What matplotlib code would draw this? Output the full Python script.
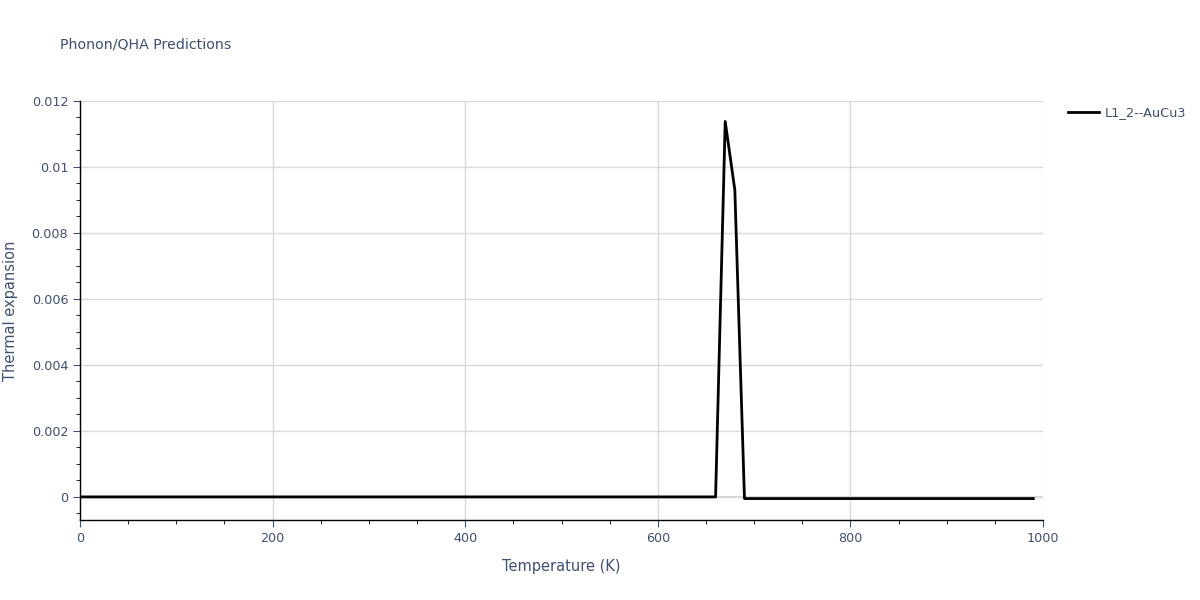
import numpy as np
import matplotlib
matplotlib.use("Agg")
import matplotlib.pyplot as plt
from matplotlib.ticker import MultipleLocator

# temperature grid (K) and thermal expansion
temperature = np.arange(0, 1000, 10)
flat_low = [0.0] * 67          # 0 .. 660 K
peak = [0.01138, 0.0093]       # 670, 680 K
flat_high = [-0.00005] * 31    # 690 .. 990 K
expansion = np.array(flat_low + peak + flat_high)

series_name = "L1_2--AuCu3"
title = "Phonon/QHA Predictions"
text_color = "#3d5070"
grid_color = "#d9d9d9"

plt.rcParams['font.family'] = ['DejaVu Sans']

fig = plt.figure(figsize=(12, 6), dpi=100)
ax = fig.add_axes([80 / 1200, 80 / 600, (1043 - 80) / 1200, (520 - 101) / 600])

ax.axhline(0, color=grid_color, lw=1.5, zorder=1)
ax.plot(temperature, expansion, color="black", lw=2, label=series_name, zorder=3)

ax.set_xlim(0, 1000)
ax.set_ylim(-0.0007, 0.012)

ax.xaxis.set_major_locator(MultipleLocator(200))
ax.xaxis.set_minor_locator(MultipleLocator(50))
ax.yaxis.set_major_locator(MultipleLocator(0.002))
ax.yaxis.set_minor_locator(MultipleLocator(0.0005))

def fmt(v, pos):
    if abs(v) < 1e-12:
        return "0"
    return ("%.3f" % v).rstrip("0")

ax.yaxis.set_major_formatter(plt.FuncFormatter(fmt))

ax.grid(True, which="major", color=grid_color, lw=1, zorder=0)
ax.set_axisbelow(True)
for side in ["top", "right"]:
    ax.spines[side].set_visible(False)
for side in ["left", "bottom"]:
    ax.spines[side].set_color("black")
    ax.spines[side].set_linewidth(1)

ax.tick_params(which="major", direction="out", length=5, color=text_color,
               labelcolor=text_color, labelsize=9.2)
ax.tick_params(which="minor", direction="out", length=3, color="black")

ax.set_xlabel("Temperature (K)", color=text_color, fontsize=10.5, labelpad=10)
ax.set_ylabel("Thermal expansion", color=text_color, fontsize=10.5, labelpad=10)

fig.text(60 / 1200, 1 - 45 / 600, title, color=text_color, fontsize=10.2, va="center")

ax.legend(loc="upper left", bbox_to_anchor=((1068 - 80) / 963, 0.987), frameon=False,
          borderpad=0, borderaxespad=0, fontsize=9.3, labelcolor=text_color,
          handlelength=2.4, handletextpad=0.45)

fig.savefig("out.png", dpi=100)
